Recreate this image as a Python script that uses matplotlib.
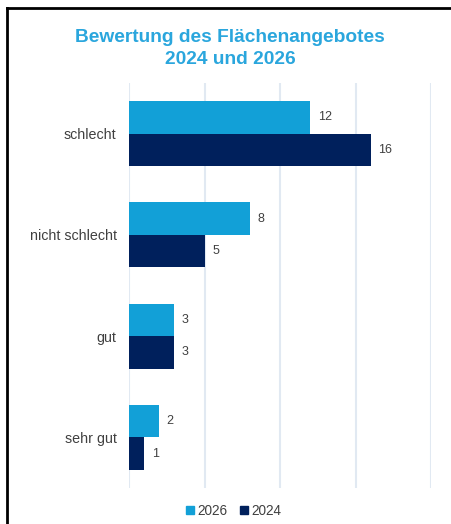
import numpy as np
import matplotlib.pyplot as plt
from matplotlib.lines import Line2D
from matplotlib.patches import Patch

plt.rcParams['font.family'] = ['Liberation Sans', 'DejaVu Sans']

# data
categories = ["schlecht", "nicht schlecht", "gut", "sehr gut"]
values_2026 = [12, 8, 3, 2]
values_2024 = [16, 5, 3, 1]
title_lines = ["Bewertung des Flächenangebotes", "2024 und 2026"]

light = "#12A0D7"
dark = "#00205C"
txt = "#404040"

fig = plt.figure(figsize=(4.51, 5.24), dpi=100)
ax = fig.add_axes([129/451, 1 - 488/524, (431 - 129)/451, (488 - 83)/524])

y = np.arange(len(categories))
h = 0.32
b1 = ax.barh(y - h/2, values_2026, height=h, color=light, label="2026")
b2 = ax.barh(y + h/2, values_2024, height=h, color=dark, label="2024")

for bars in (b1, b2):
    for bar in bars:
        w = bar.get_width()
        ax.text(w + 0.5, bar.get_y() + bar.get_height()/2, str(int(w)),
                va="center", ha="left", fontsize=9, color=txt)

ax.set_xlim(0, 20)
ax.set_ylim(len(categories) - 0.5, -0.5)
ax.set_xticks([0, 5, 10, 15, 20])
ax.set_xticklabels([])
ax.set_yticks(y)
ax.set_yticklabels(categories, fontsize=10.3, color=txt)
ax.tick_params(length=0, pad=9)
ax.grid(axis="x", color="#E1E9F2", linewidth=1.5)
ax.set_axisbelow(True)
for s in ax.spines.values():
    s.set_visible(False)

fig.text(0.51, 1 - 38/524, title_lines[0], ha="center", va="center",
         fontsize=13.8, fontweight="bold", color="#2AA6DD")
fig.text(0.51, 1 - 60/524, title_lines[1], ha="center", va="center",
         fontsize=13.8, fontweight="bold", color="#2AA6DD")

handles = [Patch(color=light, label="2026"), Patch(color=dark, label="2024")]
fig.legend(handles=handles, loc="center", bbox_to_anchor=(234/451, 1 - 511/524),
           ncol=2, frameon=False, fontsize=9.8, handlelength=0.55, handleheight=0.55,
           handletextpad=0.3, columnspacing=0.9, labelcolor=txt)

# black border on left and top
fig.add_artist(Line2D([7.5/451, 7.5/451], [0, 1 - 7.5/524], color="black", linewidth=2))
fig.add_artist(Line2D([7.5/451, 1], [1 - 7.5/524, 1 - 7.5/524], color="black", linewidth=2))

fig.savefig("out.png", dpi=100)
